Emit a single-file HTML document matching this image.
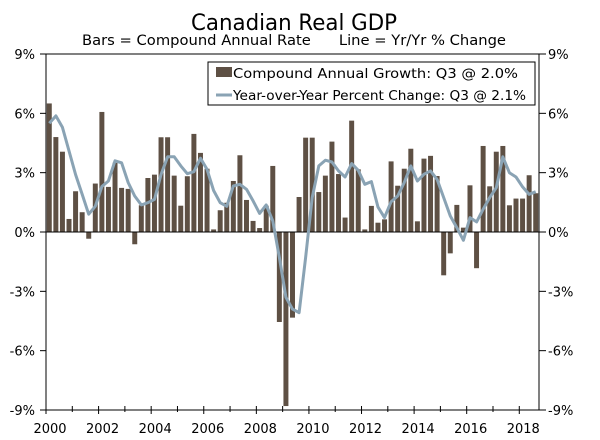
<!DOCTYPE html>
<html><head><meta charset="utf-8"><style>
body{margin:0;background:#fff;}
svg{display:block;font-family:"DejaVu Sans","Liberation Sans",sans-serif;}
</style></head><body>
<svg id="chart" width="600" height="440" viewBox="0 0 600 440">
<text x="294" y="30" text-anchor="middle" font-size="22" textLength="206" lengthAdjust="spacingAndGlyphs">Canadian Real GDP</text>
<text x="294" y="45" text-anchor="middle" font-size="14" textLength="424" lengthAdjust="spacingAndGlyphs" xml:space="preserve">Bars = Compound Annual Rate      Line = Yr/Yr % Change</text>
<g id="axes"></g>
<g id="bars"></g>
<g id="line"></g>
<g>
<rect x="208" y="62" width="327" height="43" fill="#fff" stroke="#000" stroke-width="1"/>
<rect x="216" y="67" width="16" height="10" fill="#5e5044"/>
<text x="233" y="78" font-size="13" textLength="285" lengthAdjust="spacingAndGlyphs">Compound Annual Growth: Q3 @ 2.0%</text>
<line x1="216" y1="95" x2="232" y2="95" stroke="#8aa3b4" stroke-width="3"/>
<text x="233" y="100" font-size="13" textLength="293" lengthAdjust="spacingAndGlyphs">Year-over-Year Percent Change: Q3 @ 2.1%</text>
</g>
</svg>
<script>
const years=[2000,2001,2002,2003,2004,2005,2006,2007,2008,2009,2010,2011,2012,2013,2014,2015,2016,2017,2018];
const yTicks=[9,6,3,0,-3,-6,-9];
const barValues=[6.5,4.8,4.06,0.66,2.06,1.0,-0.34,2.45,6.07,2.28,3.5,2.23,2.18,-0.62,1.35,2.73,2.9,4.79,4.79,2.85,1.33,2.82,4.96,4.0,3.2,0.13,1.1,1.48,2.58,3.88,1.62,0.56,0.2,1.33,3.34,-4.55,-8.8,-4.33,1.77,4.77,4.77,2.02,2.85,4.57,2.93,0.73,5.63,3.17,0.13,1.32,0.47,0.64,3.57,2.34,3.2,4.21,0.54,3.71,3.85,2.83,-2.19,-1.08,1.37,0.22,2.36,-1.83,4.35,2.31,4.06,4.35,1.35,1.69,1.69,2.87,1.96];
const yoyValues=[5.5,5.87,5.3,4.1,2.9,1.9,0.9,1.3,2.3,2.58,3.6,3.5,2.5,1.82,1.37,1.48,1.65,2.9,3.8,3.8,3.34,2.95,3.05,3.73,3.17,2.1,1.48,1.3,2.33,2.41,2.16,1.57,0.94,1.37,0.56,-1.3,-3.3,-3.9,-4.08,-1.3,1.74,3.34,3.63,3.54,3.09,2.78,3.46,3.12,2.41,2.55,1.26,0.73,1.53,1.82,2.5,3.34,2.58,2.92,3.09,2.66,1.74,0.81,0.22,-0.42,0.73,0.51,1.15,1.74,2.24,3.8,3.0,2.78,2.28,1.9,2.04];
const L=46,R=539,T=54,B=410,yMin=-9,yMax=9;
const nQ=barValues.length;
const slot=(R-L)/nQ;
function yS(v){return T+(yMax-v)/(yMax-yMin)*(B-T);}
function xQ(i){return L+slot*i;}
function xYear(y){return L+slot*4*(y-years[0]);}
const NS="http://www.w3.org/2000/svg";
function mk(tag,attrs,parent){const e=document.createElementNS(NS,tag);for(const k in attrs)e.setAttribute(k,attrs[k]);parent.appendChild(e);return e;}
const axes=document.getElementById('axes');
const ax=mk('g',{},axes);
// frame
let e;
e=mk('line',{x1:L-5,y1:T,x2:R+7,y2:T,stroke:'#000','stroke-width':1},ax);

e=mk('line',{x1:L,y1:T,x2:L,y2:B+3,stroke:'#000','stroke-width':1},ax);

e=mk('line',{x1:R,y1:T,x2:R,y2:B,stroke:'#000','stroke-width':1},ax);

e=mk('line',{x1:L,y1:B,x2:R,y2:B,stroke:'#000','stroke-width':1},ax);

yTicks.forEach(v=>{
  const y=yS(v);
  mk('line',{x1:L-6,y1:y,x2:L,y2:y,stroke:'#000'},ax);
  mk('line',{x1:R,y1:y,x2:R+7,y2:y,stroke:'#000'},ax);
  const t1=mk('text',{x:35,y:y+5,'text-anchor':'end','font-size':13},ax);
  t1.textContent=v+'%';
  
  
  const t2=mk('text',{x:548,y:y+5,'font-size':13},ax);
  t2.textContent=v+'%';
  
  
});
years.forEach((yr,k)=>{
  const x=xYear(yr);
  const major=k%2===0;
  mk('line',{x1:x,y1:B-4,x2:x,y2:B+(major?4:2),stroke:'#000'},ax);
  if(major){
    const t=mk('text',{x:x+4,y:433,'text-anchor':'middle','font-size':13},ax);
    t.textContent=yr;
    
    
  }
});
// zero line drawn after bars
const bars=document.getElementById('bars');
barValues.forEach((v,i)=>{
  const y0=yS(0),y1=yS(v);
  const r=mk('rect',{x:xQ(i)+0.8,y:Math.min(y0,y1),width:slot-1.6,height:Math.abs(y1-y0),fill:'#5e5044'},bars);
  
  
});
e=mk('line',{x1:L,y1:yS(0),x2:R,y2:yS(0),stroke:'#000','stroke-width':1},bars);

const pts=yoyValues.map((v,i)=>(xQ(i)+slot/2).toFixed(1)+','+yS(v).toFixed(1)).join(' ');
const pl=mk('polyline',{points:pts,fill:'none',stroke:'#8aa3b4','stroke-width':3,'stroke-linejoin':'round'},document.getElementById('line'));


</script>
</body></html>
